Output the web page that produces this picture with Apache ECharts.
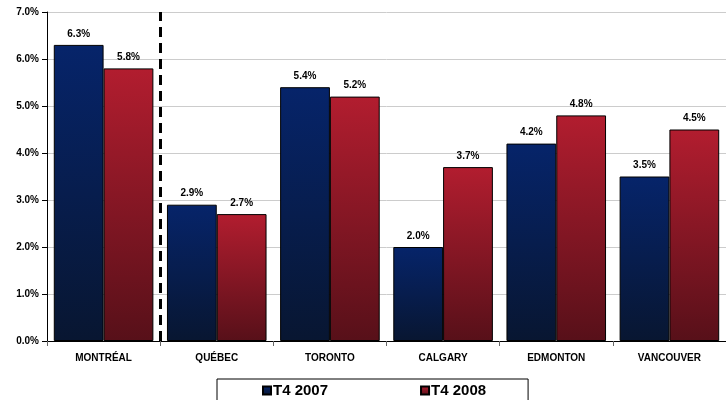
<!DOCTYPE html>
<html>
<head>
<meta charset="utf-8">
<script src="https://cdn.jsdelivr.net/npm/echarts@6/dist/echarts.min.js"></script>
<style>
html,body{margin:0;padding:0;background:#fff;}
#c{width:726px;height:400px;}
</style>
</head>
<body>
<div id="c"></div>
<script>
const categories = ['MONTRÉAL', 'QUÉBEC', 'TORONTO', 'CALGARY', 'EDMONTON', 'VANCOUVER'];
const seriesNames = ['T4 2007', 'T4 2008'];
const values2007 = [6.3, 2.9, 5.4, 2.0, 4.2, 3.5];
const values2008 = [5.8, 2.7, 5.2, 3.7, 4.8, 4.5];
const dividerAfter = 1; // dashed divider after the first category (MONTRÉAL | QUÉBEC)
const yMin = 0, yMax = 7, yStep = 1;

const font = 'Liberation Sans, Arial, sans-serif';
function grad(top, bottom) {
  return new echarts.graphic.LinearGradient(0, 0, 0, 1, [
    {offset: 0, color: top}, {offset: 1, color: bottom}
  ]);
}
const chart = echarts.init(document.getElementById('c'));
const labelCfg = {
  show: true, position: 'top', distance: 6,
  fontFamily: font, fontWeight: 'bold', fontSize: 10, color: '#000',
  formatter: p => p.value.toFixed(1) + '%'
};
chart.setOption({
  animation: false,
  backgroundColor: '#fff',
  grid: {left: 47, top: 12, width: 686, bottom: 59, containLabel: false},
  legend: {
    data: seriesNames,
    left: 217, top: 379,
    padding: [4, 42, 12, 45],
    itemGap: 92, itemWidth: 8, itemHeight: 8, icon: 'rect',
    borderColor: '#000', borderWidth: 1, backgroundColor: '#fff',
    textStyle: {fontFamily: font, fontWeight: 'bold', fontSize: 15, color: '#000', padding: [0, 0, 0, -3]}
  },
  xAxis: [{
    type: 'category', data: categories,
    axisLine: {lineStyle: {color: '#000', width: 1}},
    axisTick: {show: true, length: 5, lineStyle: {color: '#666'}},
    axisLabel: {fontFamily: font, fontWeight: 'bold', fontSize: 10, color: '#000', margin: 12},
    splitLine: {show: false}
  }, {
    type: 'value', min: 0, max: categories.length, show: false,
    splitLine: {show: false}
  }],
  yAxis: {
    type: 'value', min: yMin, max: yMax, interval: yStep,
    axisLine: {show: true, lineStyle: {color: '#000', width: 1}},
    axisTick: {show: true, length: 5, lineStyle: {color: '#000'}},
    axisLabel: {fontFamily: font, fontWeight: 'bold', fontSize: 10, color: '#000', margin: 8,
      formatter: v => v.toFixed(1) + '%'},
    splitLine: {lineStyle: {color: '#cccccc', width: 1}}
  },
  series: [
    {
      name: seriesNames[0], type: 'bar', data: values2007,
      barGap: '0%', barCategoryGap: '12%',
      itemStyle: {color: grad('#06246a', '#081631'), borderColor: '#000', borderWidth: 1},
      label: labelCfg
    },
    {
      name: seriesNames[1], type: 'bar', data: values2008,
      itemStyle: {color: grad('#b21d2f', '#571019'), borderColor: '#000', borderWidth: 1},
      label: labelCfg
    },
    {
      name: 'divider', type: 'line', xAxisIndex: 1, data: [],
      silent: true,
      markLine: {
        silent: true, symbol: 'none', label: {show: false},
        lineStyle: {color: '#000', width: 3, type: [10, 6]},
        data: [{xAxis: dividerAfter}]
      }
    }
  ]
});
</script>
</body>
</html>
